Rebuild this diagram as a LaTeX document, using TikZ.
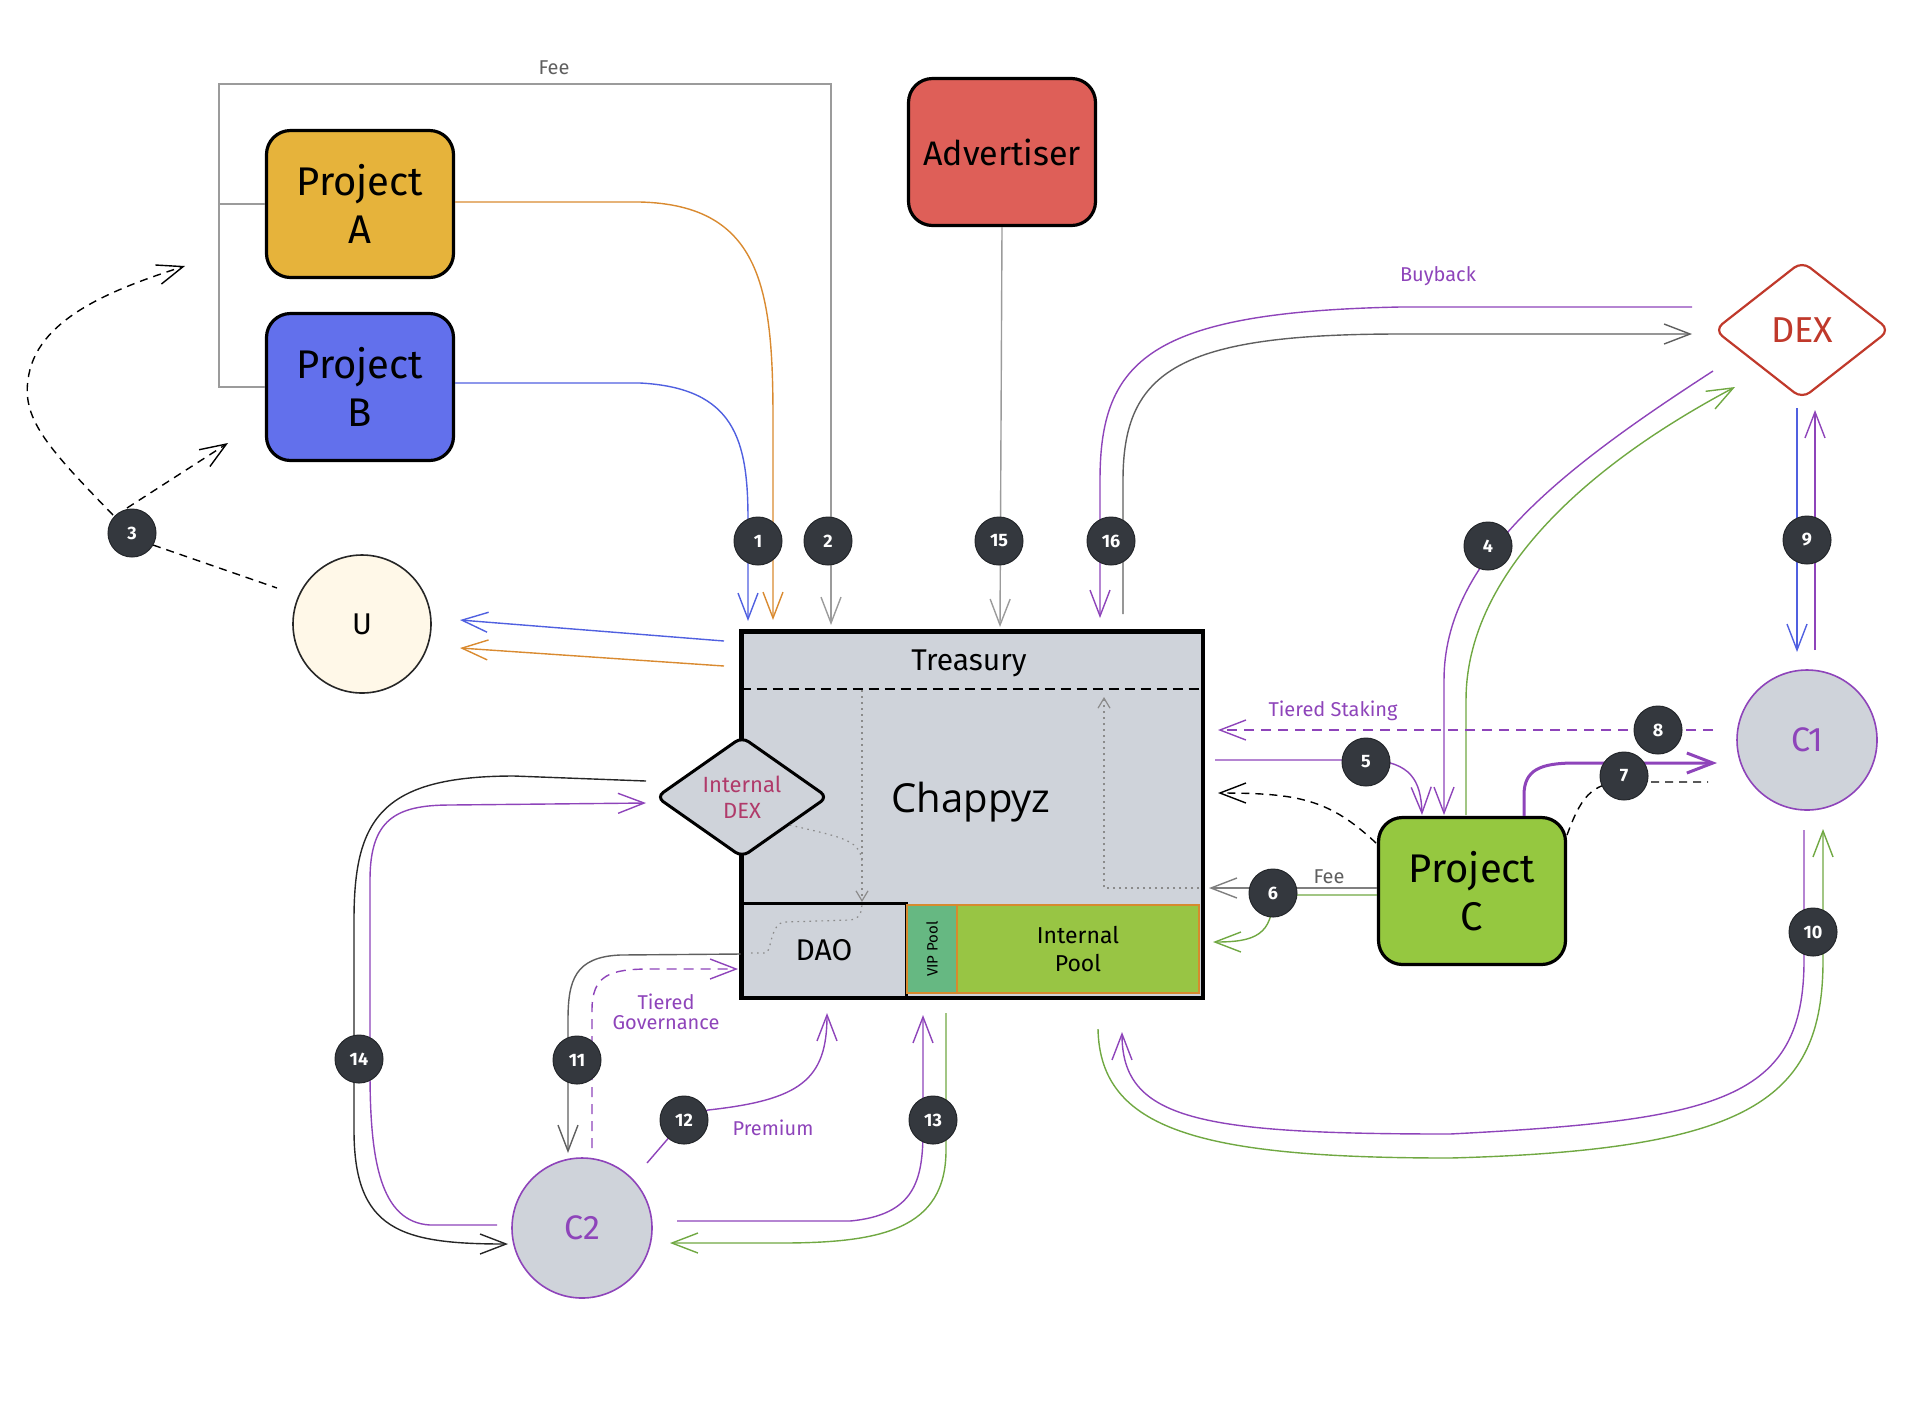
\documentclass[tikz,border=0pt]{standalone}
\usepackage{fontspec}
\setmainfont{Fira Sans}
\newfontfamily\chapfont{Open Sans}
\usetikzlibrary{arrows.meta,shapes.geometric}
\definecolor{cpurple}{RGB}{142,68,186}
\definecolor{cblue}{RGB}{80,96,224}
\definecolor{corange}{RGB}{217,138,48}
\definecolor{cgray}{RGB}{155,155,155}
\definecolor{cdgray}{RGB}{95,95,95}
\definecolor{cgreen}{RGB}{112,168,66}
\definecolor{cred}{RGB}{192,57,43}
\definecolor{cbadge}{RGB}{52,56,62}
\definecolor{cchap}{RGB}{207,211,218}
\definecolor{cprojA}{RGB}{230,179,59}
\definecolor{cprojB}{RGB}{98,112,236}
\definecolor{cadv}{RGB}{222,95,88}
\definecolor{cprojC}{RGB}{149,200,64}
\definecolor{cU}{RGB}{255,248,232}
\definecolor{cpool}{RGB}{152,197,68}
\definecolor{cvip}{RGB}{102,184,130}
\definecolor{cpoolb}{RGB}{214,138,46}
\definecolor{cidex}{RGB}{176,58,106}
\begin{document}
\begin{tikzpicture}[x=0.5pt,y=-0.5pt,
  conn/.style={line width=0.7pt},
  arr/.style={-{Straight Barb[length=13pt,width=10pt]}},
  arrs/.style={-{Straight Barb[length=5pt,width=6pt]}},
  proj/.style={draw=black, line width=1.6pt, rounded corners=12pt, minimum width=93.5pt, minimum height=73.5pt, align=center, font=\fontsize{20}{24}\selectfont},
  actor/.style={circle, draw=cpurple, line width=0.8pt, fill=cchap, minimum size=70pt, inner sep=0pt, text=cpurple, font=\fontsize{17}{20}\selectfont},
  badge/.style={circle, fill=cbadge, draw=cbadge!70!black, line width=0.5pt, minimum size=24pt, inner sep=0pt, text=white, font=\bfseries\fontsize{9}{10}\selectfont},
  lbl/.style={font=\fontsize{10}{12}\selectfont, align=center},
  dots/.style={cgray!90!black, line width=0.6pt, dash pattern=on 0.8pt off 2.2pt},
  blk/.style={draw=black, line width=1.5pt}
]
\useasboundingbox (0,0) rectangle (1920,1420);

% ---------- main box ----------
\node[blk, fill=cchap, minimum width=230pt, minimum height=182.5pt, inner sep=0pt] (chap) at (972,814.5) {};
\draw[black, line width=1.1pt, dash pattern=on 5pt off 3pt] (chap.west |- 0,689) coordinate (tl) -- (chap.east |- 0,689) coordinate (tr);
\node[font=\fontsize{15}{18}\selectfont] (treas) at (969,663) {Treasury};
\node[font=\chapfont\fontsize{20}{24}\selectfont] (chaptxt) at (971,802) {Chappyz};

\node[blk, fill=cchap, minimum width=82pt, minimum height=47pt, inner sep=0pt, font=\fontsize{15}{18}\selectfont] (dao) at (824,950) {DAO};
\node[draw=cpoolb, line width=1.2pt, fill=cvip, minimum width=25pt, minimum height=44pt, inner sep=0pt] (vip) at (932,949) {};
\node[rotate=90, font=\fontsize{7.5}{9}\selectfont] at (vip.center) {VIP Pool};
\node[draw=cpoolb, line width=1.2pt, fill=cpool, minimum width=121pt, minimum height=44pt, inner sep=0pt, align=center, font=\fontsize{11.5}{14}\selectfont] (ipool) at (1078,949) {Internal\\Pool};
\draw[black, line width=1.5pt] (chap.south west) rectangle (chap.north east);

\node[diamond, draw=black, line width=1.5pt, fill=cchap, rounded corners=4pt, minimum width=86pt, minimum height=60pt, inner sep=0pt, align=center, text=cidex, font=\fontsize{11}{13}\selectfont] (idex) at (742,797) {Internal\\DEX};

% dotted internal flows
\coordinate (dv1) at (862,690);
\coordinate (dv2) at (862,902);
\draw[dots, arrs] (dv1) -- (dv2);
\draw[dots] (idex.south east) ++(4,-3) .. controls (845,838) and (862,840) .. (862,865);
\draw[dots] (751,953) -- (766,953) .. controls (772,950) and (770,923) .. (785,922) -- (850,920) .. controls (860,919) and (862,912) .. (dv2);
\coordinate (dr1) at (1199,888);
\coordinate (dr2) at (1104,697);
\draw[dots, arrs] (dr1) -- (1104,888) -- (dr2);

% ---------- outer nodes ----------
\node[proj, fill=cprojA] (pa) at (360,204) {Project\\A};
\node[proj, fill=cprojB] (pb) at (360,387) {Project\\B};
\node[proj, fill=cadv, font=\fontsize{17}{20}\selectfont] (adv) at (1002,152) {Advertiser};
\node[proj, fill=cprojC] (pc) at (1472,891) {Project\\C};
\node[circle, draw=black!85, line width=0.8pt, fill=cU, minimum size=69pt, inner sep=0pt, font=\fontsize{15}{18}\selectfont] (u) at (362,624) {U};
\node[actor] (c1) at (1807,740) {C1};
\node[actor] (c2) at (582,1228) {C2};
\node[diamond, draw=cred, line width=1.1pt, fill=white, rounded corners=5pt, minimum width=88pt, minimum height=69pt, inner sep=0pt, text=cred, font=\fontsize{18}{20}\selectfont] (dex) at (1802,330) {DEX};

% ---------- connectors ----------
% Fee (gray) from A and B
\coordinate (t2) at (831,625);
\draw[cgray, conn] (pa.west) -- (219,204);
\draw[cgray, conn, arr] (pb.west) -- (219,387) -- (219,84) -- (831,84) -- (t2);
\node[lbl, text=cdgray] (feeA) at (554,68) {Fee};

% 1: A (orange) and B (blue) into treasury
\coordinate (t1o) at (773,620);
\coordinate (t1b) at (748,621);
\draw[corange, conn, arr] (pa.east) ++(0,-2) -- (640,202) .. controls (762,205) and (773,290) .. (773,420) -- (t1o);
\draw[cblue, conn, arr] (pb.east) ++(0,-4) -- (640,383) .. controls (735,388) and (748,440) .. (748,520) -- (t1b);

% treasury to U
\coordinate (ub1) at (724,641);
\coordinate (uo1) at (724,666);
\coordinate (ub2) at (460,620);
\coordinate (uo2) at (460,648);
\draw[cblue, conn, arr] (ub1) -- (ub2);
\draw[corange, conn, arr] (uo1) -- (uo2);

% 3: dashed from U
\coordinate (d3a) at (185,266);
\coordinate (d3b) at (228,443);
\coordinate (d3u) at (277,588);
\draw[black, conn, dash pattern=on 4pt off 3pt, arr] (113,515) .. controls (50,450) and (22,420) .. (28,380) .. controls (35,320) and (110,290) .. (d3a);
\draw[black, conn, dash pattern=on 4pt off 3pt, arr] (127,508) -- (d3b);
\draw[black, conn, dash pattern=on 4pt off 3pt] (153,545) -- (d3u);

% 15: advertiser
\coordinate (t15) at (1000,627);
\draw[cgray, conn, arr] (adv.south) -- (t15);

% 16: buyback
\coordinate (t16) at (1100,618);
\coordinate (s16) at (1123,614);
\coordinate (dexin) at (1692,334);
\coordinate (dexout) at (1692,307);
\draw[cpurple, conn, arr] (dexout) -- (1400,307) .. controls (1150,312) and (1100,360) .. (1100,480) -- (t16);
\draw[cdgray, conn, arr] (s16) -- (1123,480) .. controls (1123,370) and (1180,334) .. (1400,334) -- (dexin);
\node[lbl, text=cpurple] (buyback) at (1438,276) {Buyback};

% 4: DEX <-> Project C
\coordinate (t4) at (1444,815);
\coordinate (s4g) at (1466,815);
\draw[cpurple, conn, arr] (1713,371) .. controls (1560,470) and (1444,560) .. (1444,680) -- (t4);
\draw[cgreen, conn, arr] (s4g) -- (1466,700) .. controls (1466,590) and (1560,480) .. (1735,387);

% 9: DEX <-> C1
\draw[cblue, conn, arr] (1797,408) -- (1797,652);
\draw[cpurple, conn, arr] (1815,650) -- (1815,410);

% 8: tiered staking
\coordinate (t8) at (1218,730);
\draw[cpurple, conn, dash pattern=on 5pt off 3.5pt, arr] (1713,730) -- (t8);
\node[lbl, text=cpurple] (tstake) at (1333,711) {Tiered Staking};

% 5: treasury -> Project C
\coordinate (t5) at (1422,815);
\draw[cpurple, conn, arr] (1215,760) -- (1370,760) .. controls (1410,762) and (1421,780) .. (t5);

% black dashed from Project C to treasury
\coordinate (t5d) at (1218,793);
\draw[black, conn, dash pattern=on 4pt off 3pt, arr] (1376,843) .. controls (1330,800) and (1300,793) .. (t5d);

% 6: fee and green from Project C
\coordinate (t6) at (1209,888);
\coordinate (t6g) at (1213,942);
\draw[cdgray!80, conn, arr] (pc.west |- 0,888) -- (t6);
\node[lbl, text=cdgray] (fee6) at (1329,877) {Fee};
\draw[cgreen, conn, arr] (pc.west |- 0,895) -- (1273,895) .. controls (1273,935) and (1255,942) .. (t6g);

% 7: Project C -> C1
\draw[cpurple, line width=1.5pt, arr] (pc.north -| 1524,0) -- (1524,795) .. controls (1524,770) and (1540,763) .. (1575,763) -- (1717,763);
\draw[black, conn, dash pattern=on 4pt off 3pt] (1567,835) .. controls (1580,800) and (1590,782) .. (1625,782) -- (1708,782);

% 10: C1 <-> internal pool
\draw[cpurple, conn, arr] (1804,830) -- (1804,960) .. controls (1804,1100) and (1720,1120) .. (1450,1134) .. controls (1200,1134) and (1122,1120) .. (1122,1032);
\draw[cgreen, conn, arr] (1098,1029) .. controls (1100,1130) and (1200,1158) .. (1450,1158) .. controls (1750,1150) and (1823,1100) .. (1823,960) -- (1823,829);

% 11: DAO <-> C2
\draw[cdgray, conn, arr] (dao.west |- 0,954) -- (620,955) .. controls (575,957) and (568,980) .. (568,1020) -- (568,1153);
\draw[cpurple, conn, dash pattern=on 5pt off 3.5pt, arr] (592,1148) -- (592,1010) .. controls (592,975) and (610,969) .. (650,969) -- (738,969);
\node[lbl, text=cpurple] (tgov) at (666,1012) {Tiered\\[-2pt]Governance};

% 12: premium
\draw[cpurple, conn, arr] (647,1163) -- (684,1120) -- (708,1110) .. controls (800,1100) and (827,1080) .. (827,1013);
\node[lbl, text=cpurple] (prem) at (773,1128) {Premium};

% 13: C2 <-> VIP pool
\draw[cpurple, conn, arr] (677,1221) -- (850,1221) .. controls (915,1215) and (923,1180) .. (923,1130) -- (923,1015);
\draw[cgreen, conn, arr] (946,1013) -- (946,1150) .. controls (946,1230) and (880,1243) .. (780,1243) -- (670,1243);

% 14: internal DEX <-> C2
\draw[black!85, conn, arr] (646,781) -- (514,776) .. controls (380,776) and (354,820) .. (354,920) -- (354,1130) .. controls (354,1230) and (400,1244) .. (508,1244);
\draw[cpurple, conn, arr] (497,1225) -- (430,1225) .. controls (380,1222) and (370,1160) .. (370,1072) -- (370,880) .. controls (370,820) and (395,805) .. (450,805) -- (646,803);

% ---------- badges ----------
\node[badge] (b1) at (758,541) {1};
\node[badge] (b2) at (828,541) {2};
\node[badge] (b3) at (132,533) {3};
\node[badge] (b4) at (1488,546) {4};
\node[badge] (b5) at (1366,762) {5};
\node[badge] (b6) at (1273,893) {6};
\node[badge] (b8) at (1658,730) {8};
\node[badge] (b7) at (1624,776) {7};
\node[badge] (b9) at (1807,540) {9};
\node[badge] (b10) at (1813,932) {10};
\node[badge] (b11) at (577,1060) {11};
\node[badge] (b12) at (684,1120) {12};
\node[badge] (b13) at (933,1120) {13};
\node[badge] (b14) at (359,1059) {14};
\node[badge] (b15) at (999,541) {15};
\node[badge] (b16) at (1111,541) {16};
\end{tikzpicture}
\end{document}
